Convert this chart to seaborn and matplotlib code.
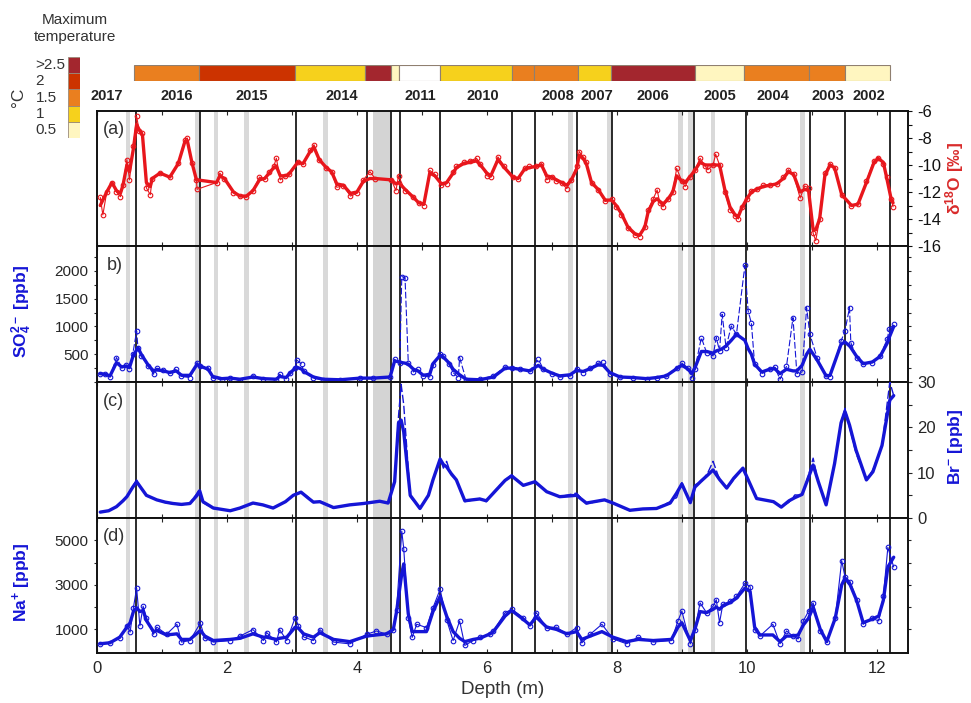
import numpy as np
import pandas as pd
import matplotlib
matplotlib.use("Agg")
import matplotlib.pyplot as plt
import seaborn as sns
from matplotlib.ticker import MultipleLocator, FixedLocator

# ---------------- data ----------------
# (a) d18O
a_depth = [0.05, 0.09, 0.15, 0.23, 0.30, 0.36, 0.40, 0.46, 0.50, 0.56, 0.61, 0.65, 0.70, 0.76, 0.82, 0.85,
           0.97, 1.12, 1.25, 1.35, 1.39, 1.46, 1.53, 1.54, 1.84, 1.89, 1.96, 2.10, 2.20, 2.30, 2.40, 2.50,
           2.58, 2.65, 2.72, 2.76, 2.82, 2.90, 2.95, 3.09, 3.17, 3.28, 3.34, 3.42, 3.53, 3.61, 3.69, 3.79,
           3.90, 4.00, 4.10, 4.20, 4.28, 4.53, 4.60, 4.64, 4.74, 4.87, 4.95, 5.03, 5.12, 5.20, 5.30, 5.38,
           5.48, 5.53, 5.64, 5.74, 5.84, 5.90, 6.00, 6.06, 6.17, 6.27, 6.40, 6.48, 6.58, 6.65, 6.76, 6.84,
           6.92, 7.00, 7.07, 7.15, 7.23, 7.30, 7.38, 7.42, 7.48, 7.53, 7.61, 7.71, 7.82, 7.92, 7.99, 8.07,
           8.17, 8.28, 8.35, 8.43, 8.48, 8.56, 8.62, 8.66, 8.71, 8.79, 8.86, 8.92, 9.00, 9.05, 9.12, 9.20,
           9.28, 9.36, 9.40, 9.48, 9.52, 9.58, 9.66, 9.74, 9.82, 9.87, 9.92, 10.00, 10.07, 10.15, 10.25, 10.35,
           10.46, 10.56, 10.64, 10.72, 10.82, 10.89, 10.95, 11.02, 11.06, 11.12, 11.20, 11.28, 11.35, 11.46, 11.61, 11.71,
           11.84, 11.95, 12.02, 12.10, 12.15, 12.22, 12.25]
a_raw = [-12.4, -13.7, -12.0, -11.3, -12.0, -12.35, -11.5, -9.6, -11.1, -8.6, -6.4, -7.5, -7.6, -11.7, -12.2, -11.0,
         -10.6, -10.9, -9.85, -8.15, -8.0, -9.85, -11.1, -11.8, -11.3, -10.6, -11.0, -12.05, -12.3, -12.4, -11.9, -10.9,
         -11.0, -10.5, -10.1, -9.5, -11.1, -10.8, -10.7, -9.75, -9.9, -8.9, -8.5, -9.6, -10.25, -10.5, -11.65, -11.55,
         -12.3, -12.1, -11.1, -10.5, -11.0, -11.1, -11.9, -10.8, -11.9, -12.4, -12.8, -13.0, -10.4, -10.7, -11.5, -11.4,
         -10.5, -10.1, -9.8, -9.7, -9.5, -9.9, -10.8, -10.9, -9.4, -10.1, -10.9, -11.0, -10.25, -10.1, -10.1, -9.9,
         -11.1, -10.9, -11.2, -11.35, -11.75, -11.1, -10.1, -9.0, -9.4, -9.8, -11.35, -11.85, -12.7, -12.5, -13.1, -13.7,
         -14.7, -15.2, -15.3, -14.6, -13.3, -12.5, -11.85, -12.8, -13.1, -12.5, -12.0, -10.25, -11.2, -11.6, -10.9, -10.4,
         -9.5, -10.1, -10.35, -10.0, -9.2, -10.0, -12.0, -13.3, -13.8, -14.0, -13.1, -12.5, -11.9, -11.75, -11.5, -11.45,
         -11.4, -10.9, -10.35, -10.7, -12.45, -11.55, -11.7, -15.05, -15.6, -14.0, -10.6, -9.9, -10.2, -12.2, -13.05, -12.9,
         -11.2, -9.7, -9.45, -9.9, -10.9, -12.5, -13.1]
a_smooth = [-13.0, -12.6, -12.0, -11.3, -11.9, -12.1, -11.5, -10.0, -10.5, -8.8, -7.0, -7.4, -7.8, -11.3, -11.6, -11.0,
            -10.6, -10.9, -9.9, -8.3, -8.2, -9.8, -11.1, -11.1, -11.3, -10.8, -11.0, -12.0, -12.3, -12.3, -11.9, -11.1,
            -11.0, -10.6, -10.2, -10.1, -10.8, -10.8, -10.7, -9.8, -9.9, -9.0, -8.7, -9.6, -10.2, -10.5, -11.4, -11.5,
            -12.1, -12.0, -11.2, -11.0, -11.0, -11.1, -11.4, -11.3, -11.8, -12.4, -12.8, -12.9, -10.6, -10.8, -11.4, -11.3,
            -10.6, -10.2, -9.9, -9.8, -9.7, -10.0, -10.6, -10.8, -9.6, -10.2, -10.9, -11.0, -10.3, -10.2, -10.1, -10.0,
            -10.8, -10.9, -11.1, -11.3, -11.5, -11.1, -10.3, -9.3, -9.5, -9.9, -11.3, -11.8, -12.6, -12.6, -13.0, -13.6,
            -14.6, -15.1, -15.2, -14.6, -13.5, -12.7, -12.5, -12.7, -12.9, -12.5, -12.0, -10.8, -11.2, -11.3, -10.9, -10.4,
            -9.8, -10.0, -10.0, -10.0, -10.0, -10.0, -11.8, -13.1, -13.7, -13.8, -13.2, -12.5, -12.0, -11.8, -11.6, -11.5,
            -11.4, -11.0, -10.5, -10.7, -12.0, -11.8, -11.9, -14.8, -14.8, -14.0, -10.8, -10.0, -10.2, -12.2, -13.0, -12.9,
            -11.3, -9.9, -9.5, -9.8, -10.9, -12.5, -12.8]

# (b) SO4 2-
b_depth = [0.05, 0.12, 0.20, 0.30, 0.38, 0.45, 0.50, 0.55, 0.61, 0.63, 0.68, 0.79, 0.87, 0.92, 1.02, 1.12,
           1.22, 1.30, 1.43, 1.54, 1.58, 1.71, 1.78, 1.92, 2.05, 2.20, 2.40, 2.56, 2.76, 2.81, 2.91, 2.97,
           3.05, 3.07, 3.15, 3.18, 3.33, 3.48, 3.74, 4.05, 4.25, 4.51, 4.58, 4.66, 4.69, 4.74, 4.79, 4.87,
           4.94, 5.02, 5.12, 5.17, 5.28, 5.32, 5.42, 5.48, 5.56, 5.58, 5.68, 5.89, 6.10, 6.28, 6.38, 6.51,
           6.66, 6.79, 6.87, 7.00, 7.12, 7.28, 7.38, 7.48, 7.59, 7.71, 7.79, 7.89, 8.05, 8.25, 8.46, 8.61,
           8.76, 8.92, 9.00, 9.10, 9.15, 9.20, 9.30, 9.38, 9.48, 9.53, 9.58, 9.62, 9.68, 9.76, 9.84, 9.97,
           10.02, 10.07, 10.12, 10.23, 10.35, 10.43, 10.51, 10.61, 10.71, 10.77, 10.85, 10.92, 10.97, 11.08, 11.22, 11.28,
           11.45, 11.51, 11.58, 11.60, 11.69, 11.79, 11.93, 12.05, 12.16, 12.19, 12.26]
b_raw = [150, 140, 92, 440, 260, 300, 230, 500, 920, 620, 470, 290, 140, 250, 220, 170,
         240, 100, 80, 350, 290, 260, 70, 40, 80, 20, 110, 60, 40, 140, 60, 170,
         250, 400, 320, 190, 70, 40, 40, 70, 70, 90, 410, 350, 1900, 1880, 350, 180,
         240, 110, 90, 310, 500, 470, 320, 170, 80, 440, 40, 50, 110, 270, 260, 240,
         200, 410, 230, 150, 90, 110, 240, 170, 250, 340, 360, 150, 90, 80, 60, 80,
         110, 260, 340, 250, 70, 230, 800, 530, 470, 800, 560, 1220, 620, 1010, 860, 2100,
         1280, 1060, 320, 150, 230, 270, 50, 280, 1160, 150, 180, 1340, 860, 440, 110, 90,
         740, 920, 1340, 710, 440, 320, 350, 470, 770, 950, 1040]
b_smooth = [150, 140, 110, 350, 270, 290, 260, 450, 580, 620, 500, 300, 200, 220, 200, 170,
            200, 120, 120, 320, 290, 230, 100, 60, 70, 50, 90, 60, 50, 100, 80, 160,
            250, 270, 230, 190, 90, 50, 40, 70, 70, 90, 380, 360, 350, 340, 320, 230,
            200, 120, 140, 330, 480, 460, 340, 230, 150, 130, 50, 40, 90, 250, 250, 230,
            200, 300, 230, 160, 110, 130, 210, 190, 240, 310, 300, 170, 90, 80, 60, 80,
            110, 240, 300, 230, 150, 250, 550, 550, 520, 560, 580, 600, 650, 750, 860, 750,
            600, 500, 320, 180, 230, 240, 150, 230, 200, 200, 300, 500, 590, 400, 110, 120,
            680, 720, 650, 620, 460, 330, 360, 460, 700, 800, 1000]

# (c) Br-
c_depth = [0.05, 0.18, 0.30, 0.40, 0.46, 0.55, 0.61, 0.68, 0.76, 0.92, 1.05, 1.17, 1.30, 1.43, 1.54, 1.58,
           1.63, 1.79, 2.05, 2.20, 2.40, 2.55, 2.71, 2.90, 3.02, 3.14, 3.25, 3.33, 3.43, 3.64, 3.89, 4.10,
           4.35, 4.48, 4.58, 4.64, 4.68, 4.72, 4.82, 4.97, 5.10, 5.17, 5.28, 5.33, 5.38, 5.45, 5.53, 5.66,
           5.89, 5.99, 6.10, 6.28, 6.38, 6.56, 6.74, 6.92, 7.12, 7.38, 7.53, 7.81, 7.94, 8.20, 8.40, 8.61,
           8.82, 8.92, 9.00, 9.13, 9.20, 9.30, 9.40, 9.48, 9.58, 9.69, 9.80, 9.94, 10.05, 10.15, 10.41, 10.53,
           10.65, 10.74, 10.85, 10.95, 11.02, 11.10, 11.22, 11.35, 11.45, 11.51, 11.58, 11.68, 11.84, 11.94, 12.08, 12.20,
           12.26]
c_raw = [1.3, 1.6, 2.5, 3.8, 4.7, 7.0, 8.4, 6.5, 4.9, 4.0, 3.4, 3.1, 2.9, 3.2, 5.5, 6.4,
         3.4, 2.1, 1.6, 2.1, 3.4, 2.9, 2.2, 3.6, 5.1, 5.8, 4.6, 3.4, 3.6, 2.2, 2.9, 3.2,
         3.8, 3.2, 8.4, 22.5, 29.5, 25.0, 4.7, 2.1, 5.0, 8.4, 13.2, 11.0, 12.5, 9.5, 8.4, 3.6,
         4.3, 3.6, 5.7, 8.4, 9.5, 7.2, 8.0, 5.8, 4.7, 5.5, 3.1, 4.0, 3.3, 1.6, 2.0, 2.1,
         3.6, 4.5, 7.8, 3.2, 7.3, 8.0, 10.0, 12.5, 8.5, 6.6, 8.5, 11.0, 7.5, 4.3, 3.6, 2.4,
         3.5, 5.1, 5.0, 9.5, 13.2, 8.0, 2.9, 12.0, 21.0, 24.2, 20.0, 14.3, 8.4, 10.6, 16.0, 30.0,
         27.0]
c_smooth = [1.3, 1.6, 2.5, 3.8, 4.7, 6.8, 8.0, 6.6, 5.0, 4.0, 3.5, 3.2, 3.0, 3.2, 5.0, 6.0,
            3.6, 2.2, 1.6, 2.2, 3.3, 2.9, 2.2, 3.6, 5.0, 5.7, 4.4, 3.5, 3.6, 2.3, 2.9, 3.2,
            3.7, 3.3, 8.0, 21.0, 21.6, 19.0, 5.0, 2.1, 5.0, 8.4, 13.0, 11.8, 11.3, 9.8, 8.4, 3.8,
            4.2, 3.8, 5.5, 8.3, 9.3, 7.2, 8.0, 5.8, 4.7, 5.0, 3.3, 4.0, 3.3, 1.7, 2.0, 2.1,
            3.3, 5.5, 7.5, 3.4, 6.8, 8.2, 9.5, 10.6, 8.5, 6.6, 8.8, 11.0, 7.5, 4.3, 3.6, 2.4,
            3.8, 4.5, 5.2, 9.0, 11.7, 8.0, 2.9, 12.0, 21.0, 23.5, 20.5, 15.0, 8.4, 10.2, 16.0, 26.0,
            27.0]

# (d) Na+
d_depth = [0.05, 0.20, 0.35, 0.46, 0.51, 0.56, 0.61, 0.66, 0.71, 0.76, 0.87, 0.92, 1.07, 1.23, 1.30, 1.43,
           1.59, 1.66, 1.79, 2.05, 2.20, 2.40, 2.56, 2.61, 2.76, 2.81, 2.92, 3.05, 3.10, 3.18, 3.33, 3.43,
           3.64, 3.89, 4.15, 4.30, 4.46, 4.56, 4.61, 4.69, 4.72, 4.79, 4.85, 4.92, 5.07, 5.17, 5.28, 5.38,
           5.48, 5.58, 5.66, 5.79, 5.89, 6.05, 6.10, 6.28, 6.38, 6.56, 6.66, 6.76, 6.92, 7.07, 7.23, 7.38,
           7.46, 7.59, 7.77, 7.94, 8.15, 8.33, 8.56, 8.84, 8.94, 9.00, 9.13, 9.20, 9.28, 9.38, 9.48, 9.53,
           9.58, 9.63, 9.74, 9.84, 9.97, 10.05, 10.12, 10.20, 10.40, 10.51, 10.61, 10.71, 10.79, 10.87, 10.95, 11.02,
           11.13, 11.23, 11.36, 11.46, 11.51, 11.59, 11.69, 11.79, 11.92, 12.03, 12.10, 12.17, 12.26]
d_raw = [355, 390, 600, 1160, 880, 1970, 2850, 1160, 2040, 1500, 780, 1100, 780, 1230, 430, 500,
         1280, 600, 430, 500, 700, 990, 500, 860, 430, 990, 500, 1530, 1160, 660, 500, 990,
         430, 350, 780, 930, 780, 990, 1890, 5410, 4630, 1500, 640, 1230, 1080, 1970, 2800, 1430,
         500, 1380, 280, 500, 650, 780, 930, 1750, 1900, 1530, 1160, 1750, 1080, 1100, 780, 1080,
         390, 780, 1230, 570, 355, 650, 430, 500, 1380, 1820, 355, 990, 2190, 1750, 2040, 2330,
         1300, 2120, 2260, 2480, 3070, 2920, 990, 700, 1230, 355, 930, 700, 570, 1380, 1820, 2190,
         930, 430, 1500, 4090, 3360, 3140, 2330, 1230, 1500, 1380, 2480, 4680, 3800]
d_smooth = [355, 400, 650, 1100, 1300, 1800, 1970, 1800, 1850, 1400, 900, 950, 750, 800, 550, 550,
            950, 700, 500, 550, 600, 800, 650, 650, 550, 600, 650, 1100, 1050, 800, 650, 850,
            550, 450, 700, 750, 800, 1000, 1800, 3500, 3940, 1700, 900, 900, 900, 1800, 2480, 1600,
            900, 600, 450, 550, 600, 800, 900, 1600, 1850, 1450, 1200, 1550, 1100, 1000, 800, 900,
            550, 700, 900, 650, 450, 550, 500, 550, 1100, 1300, 500, 1000, 1800, 1750, 1900, 2000,
            1900, 2050, 2200, 2400, 2850, 2700, 1100, 750, 750, 450, 700, 700, 750, 1200, 1500, 2000,
            1000, 450, 1500, 3000, 3300, 3000, 2300, 1300, 1450, 1600, 2300, 3800, 4240]

# year boundaries (black vertical lines) and melt-layer bands (grey)
year_lines = [0.595, 1.585, 3.06, 4.15, 4.53, 4.66, 5.28, 6.39, 6.74, 7.39, 7.93, 9.18, 9.98, 10.97, 11.51, 12.21]
band_centers = [0.48, 1.55, 1.83, 2.30, 3.52, 7.29, 7.89, 8.98, 9.13, 9.48, 10.86]
wide_band = [4.24, 4.51]

# top bar: maximum temperature classes per year segment
bar_edges = [0.565, 1.569, 3.05, 4.13, 4.52, 4.65, 5.28, 6.38, 6.73, 7.40, 7.91, 9.20, 9.96, 10.95, 11.51, 12.21]
bar_classes = ['1.5', '2', '1', '>2.5', '0.5', 'none', '1', '1.5', '1.5', '1', '>2.5', '0.5', '1.5', '1.5', '0.5']
year_labels = ['2017', '2016', '2015', '2014', '2011', '2010', '2008', '2007', '2006', '2005', '2004', '2003', '2002']
year_label_pos = [0.15, 1.22, 2.38, 3.77, 4.97, 5.94, 7.09, 7.69, 8.55, 9.58, 10.40, 11.25, 11.88]
temp_classes = ['0.5', '1', '1.5', '2', '>2.5']
temp_colors = {'0.5': '#fff6c0', '1': '#f6d11c', '1.5': '#ea7f1f', '2': '#cc3300', '>2.5': '#a3262e', 'none': '#ffffff'}

# ---------------- style ----------------
sns.set_style("ticks")
plt.rcParams['font.family'] = ['Liberation Sans', 'DejaVu Sans']
plt.rcParams['mathtext.fontset'] = 'custom'
plt.rcParams['mathtext.rm'] = 'Liberation Sans'
plt.rcParams['mathtext.it'] = 'Liberation Sans:italic'
plt.rcParams['mathtext.bf'] = 'Liberation Sans:bold'
plt.rcParams['axes.unicode_minus'] = False

RED = '#e8161c'
BLUE = '#1515d6'
TXT = '#222222'

W, H = 971, 703
fig = plt.figure(figsize=(W / 100, H / 100), dpi=100)

def fx(px):
    return px / W

def fy(py):
    return 1 - py / H

X0, X1 = 97, 908
XMAX = 12.48
panel_px = [(111, 246), (246, 382), (382, 518), (518, 653)]
axes = []
for top, bot in panel_px:
    ax = fig.add_axes([fx(X0), fy(bot), fx(X1 - X0), (bot - top) / H])
    ax.set_xlim(0, XMAX)
    axes.append(ax)
ax_a, ax_b, ax_c, ax_d = axes

for ax in axes:
    for c in band_centers:
        ax.axvspan(c - 0.035, c + 0.035, color='#d9d9d9', lw=0, zorder=0)
    ax.axvspan(wide_band[0], wide_band[1], color='#d4d4d4', lw=0, zorder=0)
    for xl in year_lines:
        ax.axvline(xl, color='#1a1a1a', lw=1.3, zorder=1)
    for s in ax.spines.values():
        s.set_linewidth(1.4)
        s.set_color('#111111')
    ax.xaxis.set_major_locator(MultipleLocator(2))
    ax.xaxis.set_minor_locator(MultipleLocator(1))
    ax.tick_params(axis='x', which='both', direction='in', top=True, bottom=True, length=3, width=0.8)
    if ax is not ax_d:
        ax.tick_params(axis='x', labelbottom=False)

def draw(ax, depth, raw, smooth, color, raw_style='-', markers=True):
    kw = dict(ax=ax, color=color, estimator=None, sort=False, zorder=3)
    if markers:
        sns.lineplot(x=depth, y=raw, linewidth=0.8, linestyle=raw_style, marker='o', markersize=3.3,
                     markerfacecolor='none', markeredgecolor=color, markeredgewidth=0.8, **kw)
    else:
        sns.lineplot(x=depth, y=raw, linewidth=1.0, linestyle=raw_style, **kw)
    sns.lineplot(x=depth, y=smooth, linewidth=2.4, **kw)
    ax.set_xlabel('')
    ax.set_ylabel('')

draw(ax_a, a_depth, a_raw, a_smooth, RED)
draw(ax_b, b_depth, b_raw, b_smooth, BLUE, raw_style=(0, (6, 2)))
draw(ax_c, c_depth, c_raw, c_smooth, BLUE, raw_style=(0, (6, 2)), markers=False)
draw(ax_d, d_depth, d_raw, d_smooth, BLUE)

# y axes
ax_a.set_ylim(-16, -6)
ax_a.yaxis.tick_right()
ax_a.yaxis.set_major_locator(FixedLocator([-16, -14, -12, -10, -8, -6]))
ax_a.yaxis.set_minor_locator(MultipleLocator(1))
ax_a.tick_params(axis='y', which='both', direction='out', right=True, left=False, labelsize=12, length=3, width=0.8, colors='#111111')

ax_b.set_ylim(0, 2450)
ax_b.yaxis.set_major_locator(FixedLocator([500, 1000, 1500, 2000]))
ax_b.yaxis.set_minor_locator(MultipleLocator(250))
ax_b.tick_params(axis='y', which='both', direction='out', left=True, right=True, labelleft=True,
                 labelright=False, labelsize=11, length=2.5, width=0.8)

ax_c.set_ylim(0, 30)
ax_c.yaxis.tick_right()
ax_c.yaxis.set_major_locator(FixedLocator([0, 10, 20, 30]))
ax_c.yaxis.set_minor_locator(MultipleLocator(5))
ax_c.tick_params(axis='y', which='both', direction='out', right=True, left=False, labelsize=12, length=3, width=0.8)

ax_d.set_ylim(-60, 6000)
ax_d.yaxis.set_major_locator(FixedLocator([1000, 3000, 5000]))
ax_d.yaxis.set_minor_locator(FixedLocator([2000, 4000]))
ax_d.tick_params(axis='y', which='both', direction='out', left=True, right=True, labelleft=True,
                 labelright=False, labelsize=11, length=2.5, width=0.8)
ax_d.tick_params(axis='x', which='major', labelsize=12, pad=6)

# panel tags
for ax, tag, xo in [(ax_a, '(a)', 0.007), (ax_b, 'b)', 0.012), (ax_c, '(c)', 0.007), (ax_d, '(d)', 0.007)]:
    ax.text(xo, 0.86, tag, transform=ax.transAxes, ha='left', va='center', fontsize=13, color='#333333', zorder=5)

# axis labels
fig.text(fx(955), fy(178), r"δ$^{\mathbf{18}}$O [‰]", rotation=90, ha='center', va='center',
         color='#d92b2b', fontsize=12.5, fontweight='bold')
fig.text(fx(22), fy(312), r"SO$_{\mathbf{4}}^{\mathbf{2-}}$ [ppb]", rotation=90, ha='center', va='center',
         color=BLUE, fontsize=12.5, fontweight='bold')
fig.text(fx(955), fy(447), r"Br$^{\mathbf{-}}$ [ppb]", rotation=90, ha='center', va='center',
         color=BLUE, fontsize=12.5, fontweight='bold')
fig.text(fx(22), fy(582), r"Na$^{\mathbf{+}}$ [ppb]", rotation=90, ha='center', va='center',
         color=BLUE, fontsize=12.5, fontweight='bold')
fig.text(fx(503), fy(690), "Depth (m)", ha='center', va='center', fontsize=13.5, color='#333333')

# top temperature bar
ax_bar = fig.add_axes([fx(X0), fy(81), fx(X1 - X0), 16 / H])
ax_bar.set_xlim(0, XMAX)
ax_bar.set_ylim(0, 1)
starts = bar_edges[:-1]
widths = [e - s for s, e in zip(bar_edges[:-1], bar_edges[1:])]
ax_bar.bar(starts, [1] * len(starts), width=widths, align='edge',
           color=[temp_colors[c] for c in bar_classes], edgecolor='#8f7f70', linewidth=0.8)
ax_bar.axis('off')
for lab, pos in zip(year_labels, year_label_pos):
    ax_bar.text(pos, -0.95, lab, ha='center', va='center', fontsize=10.5, fontweight='bold', color=TXT)

# temperature legend
ax_leg = fig.add_axes([fx(68), fy(138), fx(12), 81 / H])
ax_leg.set_xlim(0, 1)
ax_leg.set_ylim(0, len(temp_classes))
ax_leg.bar([0] * len(temp_classes), [1] * len(temp_classes), bottom=list(range(len(temp_classes))),
           width=1, align='edge', color=[temp_colors[c] for c in temp_classes], edgecolor='#9a8a7a', linewidth=0.6)
ax_leg.axis('off')
for i, c in enumerate(temp_classes):
    ax_leg.text(-2.7, i + 0.5, c, ha='left', va='center', fontsize=11, color='#333333')
fig.text(fx(18), fy(97), "°C", rotation=90, ha='center', va='center', fontsize=12.5, color='#333333')
fig.text(fx(75), fy(20), "Maximum", ha='center', va='center', fontsize=11, color='#333333')
fig.text(fx(75), fy(37), "temperature", ha='center', va='center', fontsize=11, color='#333333')

fig.savefig("out.png", dpi=100, facecolor='white')
